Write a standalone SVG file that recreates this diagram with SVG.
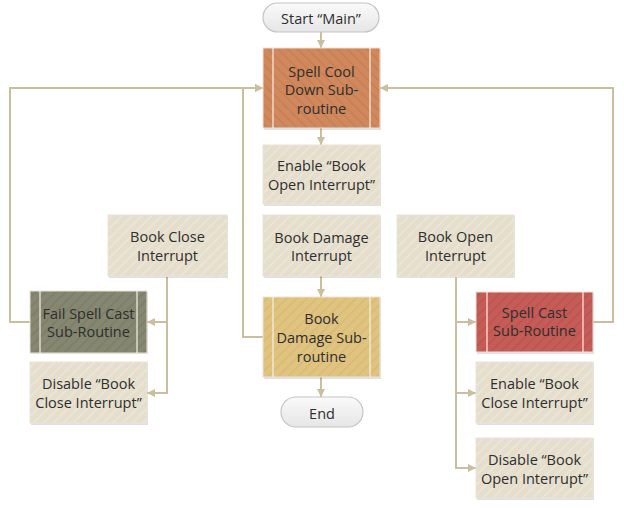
<svg xmlns="http://www.w3.org/2000/svg" width="624" height="508" viewBox="0 0 624 508">
<defs>
<pattern id="pBeige" width="7" height="7" patternUnits="userSpaceOnUse" patternTransform="rotate(45)">
<rect width="7" height="7" fill="#E5DECD"/><rect width="1.5" height="7" fill="#ECE6D8"/>
</pattern>
<pattern id="pOrange" width="7" height="7" patternUnits="userSpaceOnUse" patternTransform="rotate(-45)">
<rect width="7" height="7" fill="#D0885C"/><rect width="1.5" height="7" fill="#C67F54"/>
</pattern>
<pattern id="pOlive" width="7" height="7" patternUnits="userSpaceOnUse" patternTransform="rotate(45)">
<rect width="7" height="7" fill="#858771"/><rect width="1.5" height="7" fill="#7B7D68"/>
</pattern>
<pattern id="pRed" width="7" height="7" patternUnits="userSpaceOnUse" patternTransform="rotate(45)">
<rect width="7" height="7" fill="#C65C57"/><rect width="1.5" height="7" fill="#BA534E"/>
</pattern>
<pattern id="pGold" width="7" height="7" patternUnits="userSpaceOnUse" patternTransform="rotate(45)">
<rect width="7" height="7" fill="#E0C37F"/><rect width="1.5" height="7" fill="#D7BA76"/>
</pattern>
<linearGradient id="gPill" x1="0" y1="0" x2="0" y2="1">
<stop offset="0" stop-color="#FAFAFA"/><stop offset="1" stop-color="#E6E6E6"/>
</linearGradient>
<marker id="arr" markerWidth="8" markerHeight="8" refX="8" refY="4" orient="auto" markerUnits="userSpaceOnUse">
<path d="M0,0 L8,4 L0,8 Z" fill="#C9BF9F"/>
</marker>
</defs>
<style>
.sh{fill:#000;opacity:0.12}
.bx{stroke:#E9E4D8;stroke-width:1}
.sep{stroke:#F5F0E6;stroke-width:1.2}
.pill{fill:url(#gPill);stroke:#C4C4C4;stroke-width:1.2}
.t{font-family:"Open Sans","Noto Sans","DejaVu Sans",sans-serif;font-size:14.5px;fill:#2E2E2E;text-anchor:middle;dominant-baseline:central}
.c{fill:none;stroke:#C9BF9F;stroke-width:2}
</style>
<g id="connectors">
<path class="c" d="M321,32 V48" marker-end="url(#arr)"/>
<path class="c" d="M321,128 V145" marker-end="url(#arr)"/>
<path class="c" d="M321,276 V297" marker-end="url(#arr)"/>
<path class="c" d="M321,377 V397" marker-end="url(#arr)"/>
<path class="c" d="M263,337 H243 V88 H263" marker-end="url(#arr)"/>
<path class="c" d="M30,322 H10 V88 H263" marker-end="url(#arr)"/>
<path class="c" d="M593,322 H613 V88 H380" marker-end="url(#arr)"/>
<path class="c" d="M167,277 V322 H147" marker-end="url(#arr)"/>
<path class="c" d="M167,322 V393 H147" marker-end="url(#arr)"/>
<path class="c" d="M456,277 V322 H476" marker-end="url(#arr)"/>
<path class="c" d="M456,322 V393 H476" marker-end="url(#arr)"/>
<path class="c" d="M456,393 V468 H476" marker-end="url(#arr)"/>
</g>
<g id="start">
<rect class="pill" x="263" y="3" width="116" height="29" rx="14.5"/>
<text class="t" x="321" y="18">Start “Main”</text>
</g>
<g id="spellCoolDown">
<rect class="sh" x="264" y="49" width="117" height="81"/>
<rect class="bx" x="263" y="48" width="117" height="80" fill="url(#pOrange)"/>
<line class="sep" x1="273" y1="48" x2="273" y2="128"/><line class="sep" x1="370" y1="48" x2="370" y2="128"/>
<text class="t" x="321.5" y="71">Spell Cool</text>
<text class="t" x="321.5" y="89">Down Sub-</text>
<text class="t" x="321.5" y="108">routine</text>
</g>
<g id="enableBookOpen">
<rect class="sh" x="264" y="146" width="117" height="60"/>
<rect class="bx" x="263" y="145" width="117" height="59" fill="url(#pBeige)"/>
<text class="t" x="321.5" y="165">Enable “Book</text>
<text class="t" x="321.5" y="184">Open Interrupt”</text>
</g>
<g id="bookDamageInterrupt">
<rect class="sh" x="264" y="216" width="117" height="62"/>
<rect class="bx" x="263" y="215" width="117" height="61" fill="url(#pBeige)"/>
<text class="t" x="321.5" y="237">Book Damage</text>
<text class="t" x="321.5" y="255">Interrupt</text>
</g>
<g id="bookDamageSub">
<rect class="sh" x="264" y="298" width="117" height="81"/>
<rect class="bx" x="263" y="297" width="117" height="80" fill="url(#pGold)"/>
<line class="sep" x1="273" y1="297" x2="273" y2="377"/><line class="sep" x1="370" y1="297" x2="370" y2="377"/>
<text class="t" x="321.5" y="318">Book</text>
<text class="t" x="321.5" y="337">Damage Sub-</text>
<text class="t" x="321.5" y="356">routine</text>
</g>
<g id="end">
<rect class="pill" x="281" y="397" width="82" height="30" rx="15"/>
<text class="t" x="322" y="413">End</text>
</g>
<g id="bookCloseInterrupt">
<rect class="sh" x="109" y="216" width="119" height="62"/>
<rect class="bx" x="108" y="215" width="119" height="61" fill="url(#pBeige)"/>
<text class="t" x="167.5" y="236">Book Close</text>
<text class="t" x="167.5" y="255">Interrupt</text>
</g>
<g id="failSpellCast">
<rect class="sh" x="31" y="292" width="117" height="62"/>
<rect class="bx" x="30" y="291" width="117" height="62" fill="url(#pOlive)"/>
<line class="sep" x1="40" y1="291" x2="40" y2="353"/><line class="sep" x1="137" y1="291" x2="137" y2="353"/>
<text class="t" x="88.5" y="313">Fail Spell Cast</text>
<text class="t" x="88.5" y="331">Sub-Routine</text>
</g>
<g id="disableBookClose">
<rect class="sh" x="31" y="363" width="117" height="62"/>
<rect class="bx" x="30" y="362" width="117" height="61" fill="url(#pBeige)"/>
<text class="t" x="88.5" y="383">Disable “Book</text>
<text class="t" x="88.5" y="402">Close Interrupt”</text>
</g>
<g id="bookOpenInterrupt">
<rect class="sh" x="398" y="216" width="117" height="62"/>
<rect class="bx" x="397" y="215" width="117" height="62" fill="url(#pBeige)"/>
<text class="t" x="455.5" y="236">Book Open</text>
<text class="t" x="455.5" y="255">Interrupt</text>
</g>
<g id="spellCast">
<rect class="sh" x="477" y="293" width="117" height="61"/>
<rect class="bx" x="476" y="292" width="117" height="60" fill="url(#pRed)"/>
<line class="sep" x1="487" y1="292" x2="487" y2="352"/><line class="sep" x1="583" y1="292" x2="583" y2="352"/>
<text class="t" x="534.5" y="312">Spell Cast</text>
<text class="t" x="534.5" y="330">Sub-Routine</text>
</g>
<g id="enableBookClose">
<rect class="sh" x="477" y="363" width="117" height="62"/>
<rect class="bx" x="476" y="362" width="117" height="61" fill="url(#pBeige)"/>
<text class="t" x="534.5" y="383">Enable “Book</text>
<text class="t" x="534.5" y="402">Close Interrupt”</text>
</g>
<g id="disableBookOpen">
<rect class="sh" x="477" y="439" width="117" height="61"/>
<rect class="bx" x="476" y="438" width="117" height="60" fill="url(#pBeige)"/>
<text class="t" x="534.5" y="459">Disable “Book</text>
<text class="t" x="534.5" y="478">Open Interrupt”</text>
</g>
</svg>
